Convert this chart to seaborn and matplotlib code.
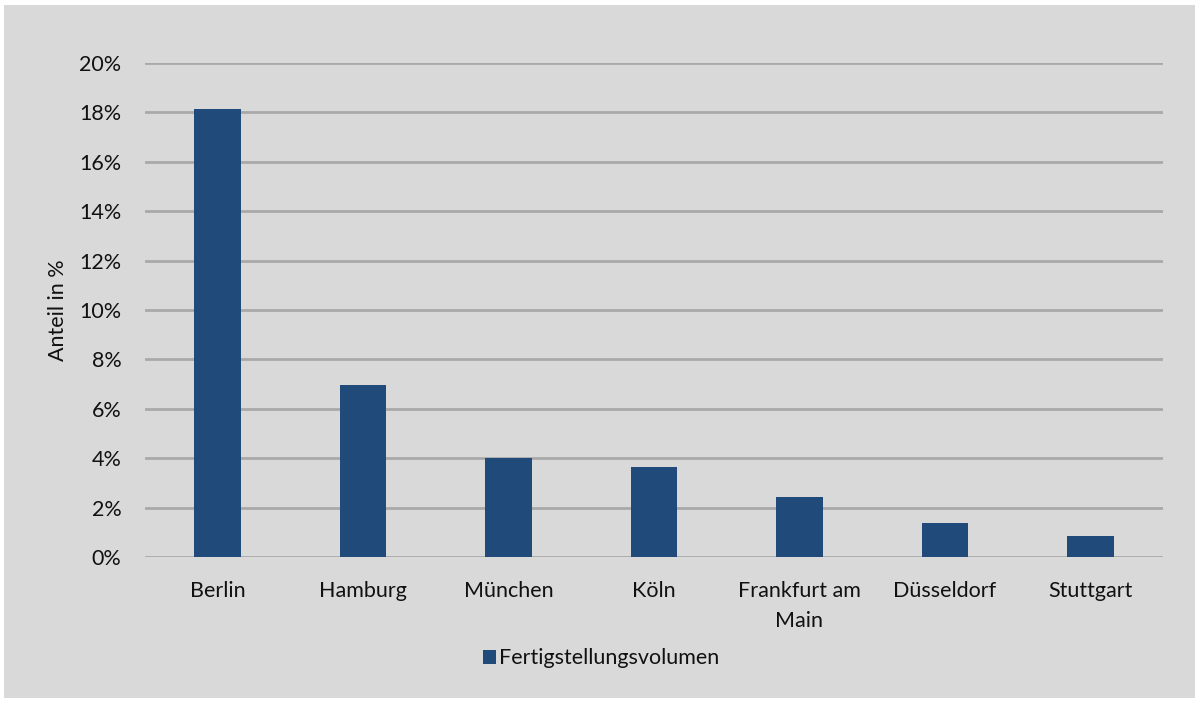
import matplotlib
matplotlib.use("Agg")
import matplotlib.pyplot as plt
from matplotlib.patches import Rectangle
from matplotlib.ticker import PercentFormatter
import seaborn as sns
import pandas as pd

# Daten
staedte = ["Berlin", "Hamburg", "München", "Köln", "Frankfurt am\nMain", "Düsseldorf", "Stuttgart"]
anteile = [18.15, 6.95, 4.02, 3.63, 2.42, 1.36, 0.86]
serie = "Fertigstellungsvolumen"

BAR_COLOR = "#1f4a7a"
BG_COLOR = "#d9d9d9"
GRID_COLOR = "#a9a9a9"
TEXT_COLOR = "#111111"
FS = 15.5

sns.set_theme(style="white")
plt.rcParams["font.family"] = ["Lato", "DejaVu Sans"]

df = pd.DataFrame({"Stadt": staedte, "Anteil": anteile, "Serie": serie})

fig = plt.figure(figsize=(12, 7.03), dpi=100, facecolor="white")
fig.patches.append(Rectangle((4 / 1200, 5 / 703), 1191 / 1200, 693 / 703,
                             transform=fig.transFigure, facecolor=BG_COLOR,
                             edgecolor="none", zorder=-10))
ax = fig.add_axes([145 / 1200, 1 - 557 / 703, 1018 / 1200, 494 / 703])
ax.set_facecolor("none")

sns.barplot(data=df, x="Stadt", y="Anteil", hue="Serie", palette=[BAR_COLOR],
            width=0.32, ax=ax, saturation=1, edgecolor=BAR_COLOR, linewidth=0)

ax.set_ylim(0, 20)
ax.set_yticks(range(0, 21, 2))
ax.yaxis.set_major_formatter(PercentFormatter(decimals=0))
ax.set_xlim(-0.5, len(staedte) - 0.5)
ax.grid(axis="y", color=GRID_COLOR, linewidth=2)
ax.set_axisbelow(True)
for s in ax.spines.values():
    s.set_visible(False)
ax.tick_params(axis="both", length=0, labelsize=FS, colors=TEXT_COLOR)
ax.tick_params(axis="y", pad=17)
ax.tick_params(axis="x", pad=17)
for lbl in ax.get_xticklabels():
    lbl.set_linespacing(1.65)
ax.set_xlabel("")
ax.set_ylabel("Anteil in %", fontsize=FS, labelpad=8, color=TEXT_COLOR)

leg = ax.legend(loc="center", bbox_to_anchor=(0.448, -0.205), frameon=False,
                fontsize=FS, handlelength=0.6, handleheight=0.6, handletextpad=0.15)
for t in leg.get_texts():
    t.set_color(TEXT_COLOR)

fig.savefig("out.png", dpi=100, facecolor="white")
